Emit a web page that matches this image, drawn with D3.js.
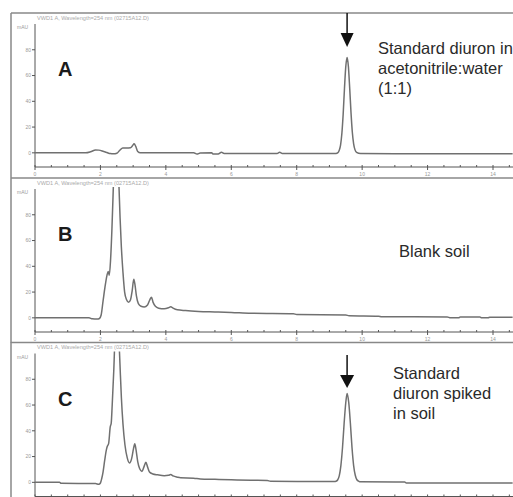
<!DOCTYPE html>
<html>
<head>
<meta charset="utf-8">
<script src="https://cdn.jsdelivr.net/npm/d3@7"></script>
<style>
  body { margin: 0; background: #fff; }
  svg { display: block; }
</style>
</head>
<body>
<svg id="chart" width="513" height="497"></svg>
<script>
// ─── data (time in min, signal in mAU) ───
const panelNames = ['A', 'B', 'C'];
const yTicks = [0, 20, 40, 60, 80];
const xTicks = [0, 2, 4, 6, 8, 10, 12, 14];
const headerText = 'VWD1 A, Wavelength=254 nm (02715A12.D)';
const notesA = ['Standard diuron in', 'acetonitrile:water', '(1:1)'];
const notesB = ['Blank soil'];
const notesC = ['Standard', 'diuron spiked', 'in soil'];
const diuronTime = 9.54;

const traceA = [
  [0, 0], [1.55, 0], [1.7, 0.8], [1.85, 2.2], [1.95, 2.1], [2.1, 1], [2.2, 0.2], [2.3, -0.6],
  [2.4, -0.8], [2.5, -0.3], [2.6, 2.2], [2.68, 3.8], [2.8, 3.8], [2.92, 4], [2.98, 5.5],
  [3.03, 7], [3.08, 5], [3.14, 1], [3.22, 0], [4.85, 0], [4.95, -1], [5.05, -0.2], [5.4, 0],
  [5.45, -1], [5.6, -0.9], [5.7, 0.4], [5.78, -0.5], [7.4, -0.6], [7.48, 0.4], [7.56, -0.6],
  [9.2, -0.5], [9.26, 0.1], [9.3, 2], [9.34, 6], [9.38, 15], [9.42, 30], [9.46, 50], [9.5, 67],
  [9.54, 74], [9.58, 67], [9.62, 50], [9.66, 31], [9.7, 16], [9.74, 7], [9.78, 2.5], [9.83, 0.4],
  [9.95, -0.6], [14.6, -0.8]
];

const traceB = [
  [0, 0], [1.65, 0], [1.75, -0.8], [1.9, -1], [1.97, -0.5], [2.02, 2], [2.08, 13], [2.14, 24],
  [2.2, 33], [2.24, 36], [2.27, 33], [2.31, 45], [2.35, 68], [2.39, 98], [2.43, 130], [2.48, 150],
  [2.53, 130], [2.57, 100], [2.6, 78], [2.64, 55], [2.69, 35], [2.74, 20], [2.8, 14], [2.86, 12],
  [2.92, 14], [2.97, 21], [3.02, 30], [3.06, 25], [3.1, 17], [3.16, 11], [3.24, 9], [3.34, 8.5],
  [3.44, 10], [3.51, 14], [3.56, 16], [3.61, 12], [3.68, 9], [3.78, 7.5], [3.95, 7], [4.08, 7.8],
  [4.15, 8.6], [4.22, 7.5], [4.35, 6.2], [4.6, 5.6], [5, 5], [5.5, 4.6], [6, 4.2], [6.6, 3.6],
  [7.9, 3.2], [8, 2.5], [9.5, 2.2], [9.6, 1.6], [10.5, 1.3], [10.6, 0.8], [12.6, 0.7], [12.7, 0],
  [12.95, 0], [13, 0.7], [13.6, 0.6], [13.65, 0], [13.85, 0], [13.9, 0.5], [14.6, 0.4]
];

const traceC = [
  [0, 0], [0.75, 0], [0.8, -0.8], [1.85, -1], [1.95, -1.5], [2, -0.5], [2.04, 3], [2.08, 8],
  [2.13, 17], [2.18, 25], [2.21, 28], [2.25, 30], [2.3, 43], [2.33, 46], [2.36, 60], [2.41, 88],
  [2.46, 125], [2.51, 140], [2.56, 115], [2.6, 90], [2.64, 66], [2.69, 45], [2.75, 29], [2.82, 19],
  [2.89, 15], [2.95, 18], [3.01, 26], [3.05, 30], [3.09, 25], [3.14, 16], [3.2, 10.5], [3.27, 8.5],
  [3.33, 12], [3.39, 15.5], [3.44, 12], [3.5, 8], [3.6, 6.5], [3.75, 5.8], [3.95, 5.2], [4.08, 5.5],
  [4.15, 6], [4.22, 5], [4.35, 4], [4.45, 3.5], [4.85, 3.2], [5.05, 2.6], [5.5, 2.3], [6, 2],
  [6.6, 1.6], [7.1, 1.4], [7.2, 0.8], [9.15, 0.6], [9.2, 0.8], [9.25, 1.8], [9.3, 5], [9.35, 13],
  [9.4, 27], [9.45, 46], [9.5, 62], [9.54, 69], [9.59, 62], [9.64, 46], [9.69, 27], [9.74, 13],
  [9.79, 5.5], [9.84, 2], [9.9, 0.8], [9.95, 0.4], [11.3, 0.3], [11.35, -0.6], [14.6, -0.6]
];

const traces = [traceA, traceB, traceC];
const notes = [notesA, notesB, notesC];

// ─── layout ───
const W = 513;
const panelOffset = [0, 165, 329.5];
const noteX = [378, 399, 393];
const noteY = [54, 257, 379];
const traceColor = '#707070';
const axisColor = '#555';
const faint = '#9a9a9a';
const font = 'Liberation Sans, Arial, sans-serif';

const svg = d3.select('#chart');
const x = d3.scaleLinear().domain([0, 14]).range([35, 493]);

panelNames.forEach((name, i) => {
  const oy = panelOffset[i];
  const g = svg.append('g').attr('transform', `translate(0,${oy})`);
  const y = d3.scaleLinear().domain([-11, 100]).range([167, 24]);

  // panel frame
  g.append('line').attr('x1', 11).attr('x2', W).attr('y1', 13).attr('y2', 13)
    .attr('stroke', '#888').attr('stroke-width', 1.5);
  g.append('line').attr('x1', 11).attr('x2', 11).attr('y1', 13).attr('y2', 178)
    .attr('stroke', '#888').attr('stroke-width', 1.5);

  // instrument header
  g.append('text').attr('x', 37).attr('y', 19.5)
    .attr('font-family', font).attr('font-size', 5.6)
    .attr('fill', '#aaa').text(headerText);

  g.append('text').attr('x', 17).attr('y', 29)
    .attr('font-family', font).attr('font-size', 5)
    .attr('fill', faint).text('mAU');

  // y axis
  g.append('line').attr('x1', x(0)).attr('x2', x(0)).attr('y1', y(100)).attr('y2', y(-11))
    .attr('stroke', axisColor).attr('stroke-width', 1);
  const yt = g.selectAll('.yt').data(yTicks).enter().append('g')
    .attr('transform', d => `translate(${x(0)},${y(d)})`);
  yt.append('line').attr('x1', -3).attr('x2', 0).attr('stroke', axisColor);
  yt.append('text').attr('x', -4).attr('dy', '0.35em').attr('text-anchor', 'end')
    .attr('font-family', font).attr('font-size', 5)
    .attr('fill', faint).text(d => d);

  // x axis (the bottom panel is cut off below its axis line)
  g.append('line').attr('x1', x(0)).attr('x2', W).attr('y1', y(-11)).attr('y2', y(-11))
    .attr('stroke', axisColor).attr('stroke-width', 1);
  const minor = d3.range(0, 14.6, 0.5);
  g.selectAll('.xm').data(minor).enter().append('line')
    .attr('x1', d => x(d)).attr('x2', d => x(d))
    .attr('y1', y(-11) - 2).attr('y2', y(-11))
    .attr('stroke', axisColor);
  if (i < 2) {
    const xt = g.selectAll('.xt').data(xTicks).enter().append('g')
      .attr('transform', d => `translate(${x(d)},${y(-11)})`);
    xt.append('line').attr('y1', 0).attr('y2', 3).attr('stroke', axisColor);
    xt.append('text').attr('y', 8.5).attr('text-anchor', 'middle')
      .attr('font-family', font).attr('font-size', 5)
      .attr('fill', faint).text(d => d);
  }

  // trace, clipped to the plot area
  const clipId = 'clip' + name;
  g.append('clipPath').attr('id', clipId).append('rect')
    .attr('x', x(0)).attr('y', y(100) - 2).attr('width', W - x(0)).attr('height', y(-11) - y(100) + 2);
  const line = d3.line().x(d => x(d[0])).y(d => y(d[1])).curve(d3.curveMonotoneX);
  g.append('path').datum(traces[i]).attr('clip-path', `url(#${clipId})`)
    .attr('d', line).attr('fill', 'none').attr('stroke', traceColor)
    .attr('stroke-width', 1.5).attr('stroke-linejoin', 'round');

  // panel letter
  g.append('text').attr('x', 58).attr('y', 76)
    .attr('font-family', font).attr('font-size', 20)
    .attr('font-weight', 'bold').attr('fill', '#1a1a1a').text(name);

  // annotation text
  notes[i].forEach((t, k) => {
    svg.append('text').attr('x', noteX[i]).attr('y', noteY[i] + k * 20)
      .attr('font-family', font).attr('font-size', 16.5)
      .attr('fill', '#2a2a2a').text(t);
  });
});

// arrows marking the diuron peak in A and C
const arrows = [
  { top: 13, mid: 33, tip: 47, half: 6.5 },
  { top: 355, mid: 375, tip: 388, half: 7 }
];
arrows.forEach(a => {
  const ax = x(diuronTime);
  svg.append('line').attr('x1', ax).attr('x2', ax).attr('y1', a.top).attr('y2', a.mid + 1)
    .attr('stroke', '#111').attr('stroke-width', 1.5);
  svg.append('path')
    .attr('d', `M${ax - a.half},${a.mid} L${ax + a.half},${a.mid} L${ax},${a.tip} Z`)
    .attr('fill', '#111');
});
</script>
</body>
</html>
